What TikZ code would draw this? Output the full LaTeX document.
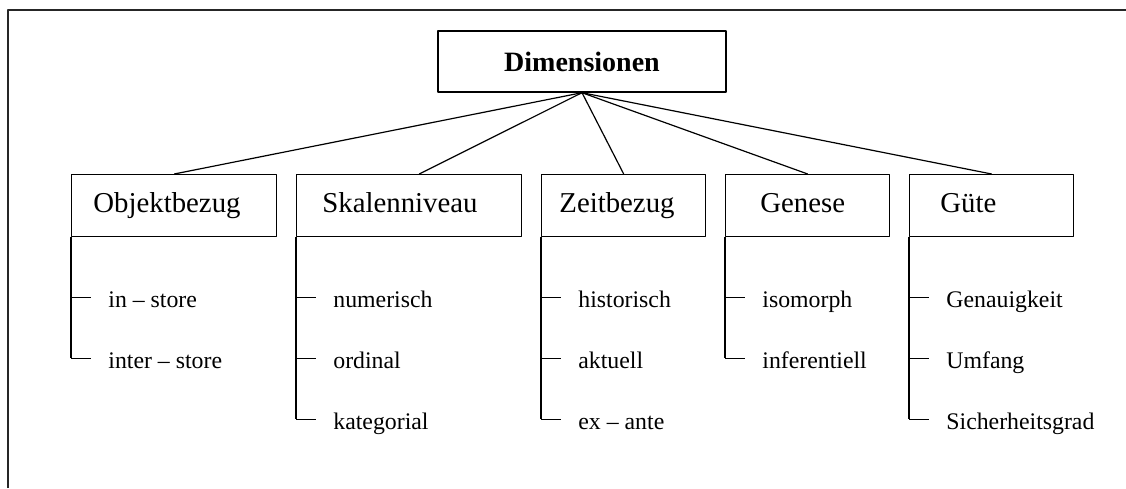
\documentclass[tikz,border=0pt]{standalone}
\usepackage{fontspec}
\setmainfont{Liberation Serif}
\usetikzlibrary{positioning}
\tikzset{
  dimbox/.style={draw, line width=.7pt, minimum width=144pt, minimum height=30.5pt, inner sep=0pt, font=\fontsize{14}{16}\selectfont\bfseries},
  catbox/.style={draw, line width=.7pt, minimum height=31pt, inner sep=0pt, anchor=north west},
  catlabel/.style={anchor=base west, inner sep=0pt, font=\fontsize{14.4}{17}\selectfont},
  item/.style={anchor=base west, inner sep=0pt, font=\fontsize{11.9}{14}\selectfont},
  link/.style={line width=.6pt},
}
\begin{document}
\begin{tikzpicture}[x=.5pt, y=-.5pt, line join=round]
	\useasboundingbox (0,0) rectangle (1126,488);
	\draw[line width=1pt, black!85] (8,488) -- (8,10) -- (1126,10);
	\node[dimbox] (dim) at (582,61.5) {Dimensionen};
	% Kategorien
	\foreach \n/\x/\w/\t/\l in {obj/71/205/93/Objektbezug, skal/296/225/322/Skalenniveau, zeit/541/164/559/Zeitbezug, gen/725/164/760/Genese, guete/909/164/940/Güte}
	{
		\node[catbox, minimum width=\w*.5pt] (\n) at (\x,174) {};
		\node[catlabel] (\n-l) at (\t,212) {\l};
	}
	\foreach \n in {obj,zeit,gen,guete} \draw[link] (dim.south) -- (\n.north);
	\draw[link] (dim.south) -- ([xshift=5pt]skal.north);
	% Auspraegungen
	\foreach \n/\k/\t in {obj/1/in – store, obj/2/inter – store, skal/1/numerisch, skal/2/ordinal, skal/3/kategorial, zeit/1/historisch, zeit/2/aktuell, zeit/3/ex – ante, gen/1/isomorph, gen/2/inferentiell, guete/1/Genauigkeit, guete/2/Umfang, guete/3/Sicherheitsgrad}
	{
		\path (\n.south west) ++(0,60+61*\k-61) coordinate (\n-t\k);
		\draw[link] (\n-t\k) -- ++(20,0);
		\node[item] (\n-\k) at ([xshift=18.5pt, yshift=-5pt]\n-t\k) {\t};
	}
	\foreach \n/\m in {obj/2, skal/3, zeit/3, gen/2, guete/3} \draw[link] (\n.south west) -- (\n-t\m);
\end{tikzpicture}
\end{document}
